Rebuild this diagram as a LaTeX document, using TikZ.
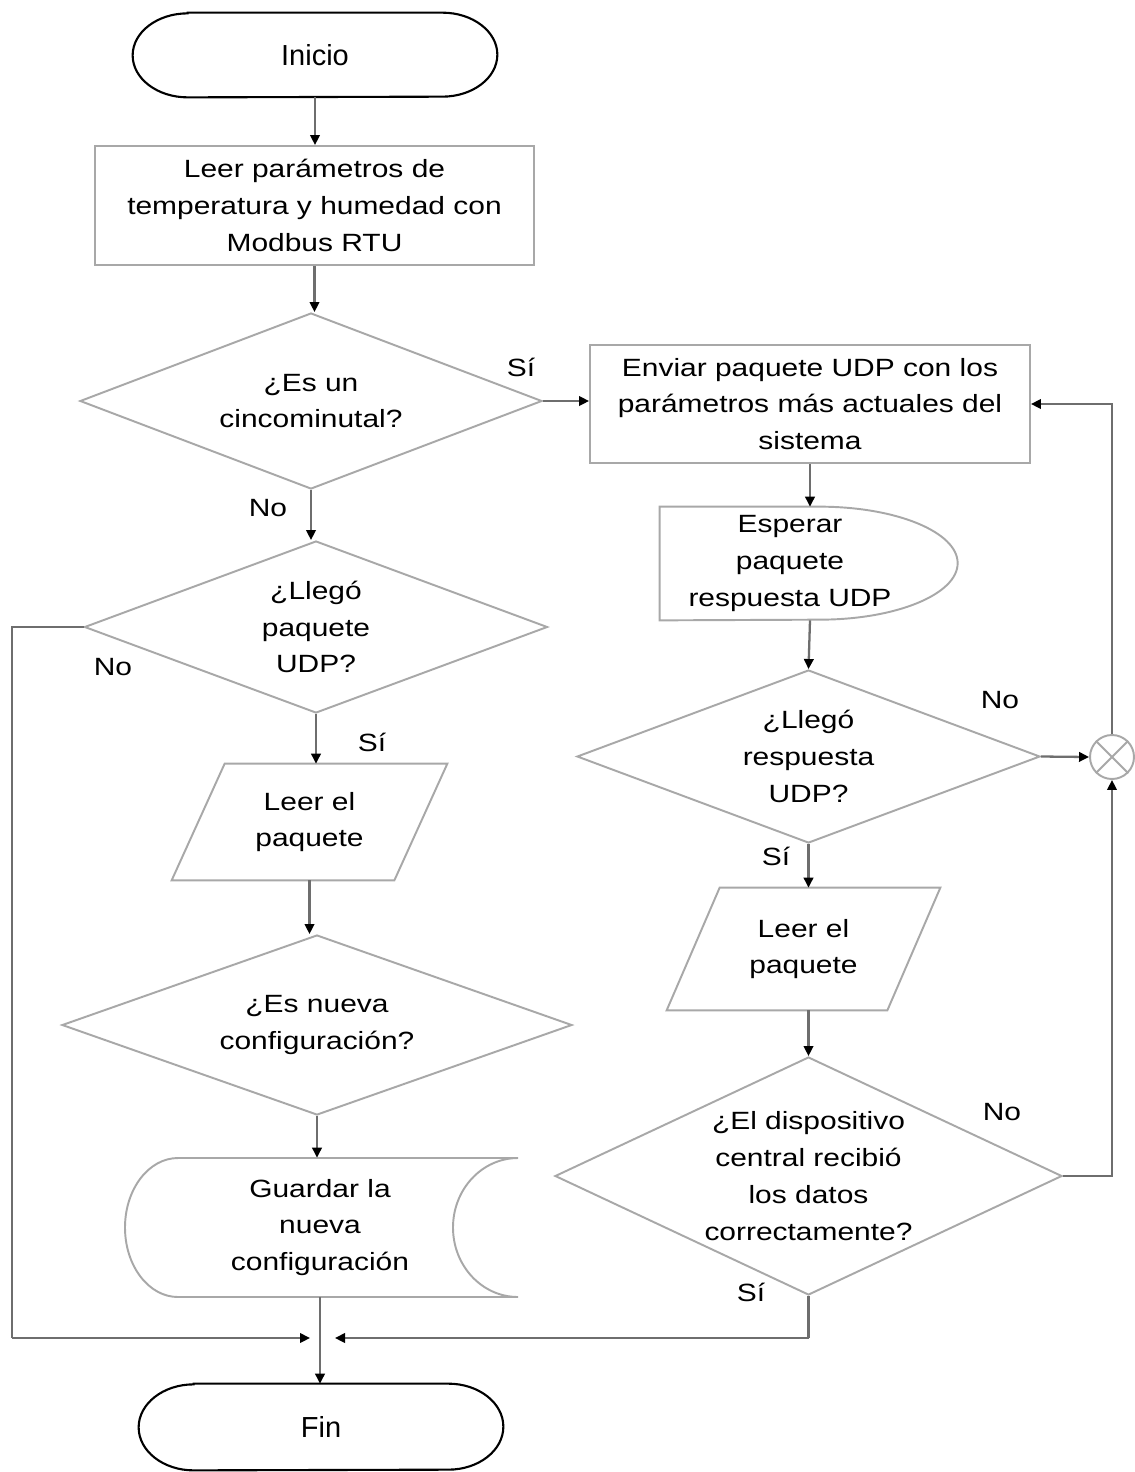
\documentclass[tikz,border=0pt]{standalone}
\usepackage{fontspec}
\setmainfont{Liberation Sans}[FakeStretch=1.2]
\newfontfamily\termfont{Liberation Sans}
\usetikzlibrary{arrows.meta,calc,shapes.geometric}
\definecolor{outlinegray}{HTML}{A8A8A8}
\definecolor{wiregray}{HTML}{6E6E6E}
% one drawing unit is one pixel of the layout grid
\newcommand\pxl[1]{#1*0.02cm}
\begin{document}
\begin{tikzpicture}[x=0.02cm,y=0.02cm,
  every node/.style={font=\fontsize{14.2pt}{21pt}\selectfont, align=center, inner sep=0pt},
  outline/.style={draw=outlinegray, line width=1.1pt},
  terminal/.style={draw=black, line width=1.2pt},
  wire/.style={draw=wiregray, line width=1.3pt},
  flow/.style={wire, -{Triangle[length=0.2cm,width=0.19cm,color=black]}},
  process/.style={rectangle, outline},
  decision/.style={diamond, outline},
  termtext/.style={font=\termfont\fontsize{16.5pt}{20pt}\selectfont}
]
\fill[white] (0,0) rectangle (1135,-1472);
\useasboundingbox (0,0) rectangle (1135,-1472);

% ---------- left column ----------
\node[termtext, minimum width=\pxl{364}, minimum height=\pxl{84}] (ini) at (315,-55) {Inicio};
\draw[terminal] ($(ini.north west)+(55,0)$) -- ($(ini.north east)+(-55,0)$)
  arc[start angle=90,end angle=-90,x radius=\pxl{55},y radius=\pxl{42}]
  -- ($(ini.south west)+(55,0)$)
  arc[start angle=270,end angle=90,x radius=\pxl{55},y radius=\pxl{42}] -- cycle;

\node[process, minimum width=\pxl{439}, minimum height=\pxl{119}] (read) at (314.5,-205.5)
  {Leer parámetros de\\temperatura y humedad con\\Modbus RTU};

\node[decision, aspect=2.63, minimum width=\pxl{462}, minimum height=\pxl{176}] (d1) at (311,-401)
  {¿Es un\\cincominutal?};

\node[decision, aspect=2.69, minimum width=\pxl{463}, minimum height=\pxl{172}] (d2) at (316,-627)
  {¿Llegó\\paquete\\UDP?};

\node[minimum width=\pxl{275}, minimum height=\pxl{116}] (p1) at (309.5,-822) {Leer el\\paquete};
\draw[outline] ($(p1.north west)+(53,0)$) -- (p1.north east) -- ($(p1.south east)+(-53,0)$)
  -- (p1.south west) -- cycle;

\node[decision, aspect=2.83, minimum width=\pxl{510}, minimum height=\pxl{180}] (d3) at (317,-1025)
  {¿Es nueva\\configuración?};

\node[minimum width=\pxl{393}, minimum height=\pxl{139}] (save) at (320,-1227.5)
  {Guardar la\\nueva\\configuración};
\draw[outline] (178,-1158) -- (518,-1158)
  arc[start angle=90,end angle=270,x radius=\pxl{65},y radius=\pxl{69.5}]
  -- (178,-1297)
  arc[start angle=270,end angle=90,x radius=\pxl{53},y radius=\pxl{69.5}] -- cycle;

\node[termtext, minimum width=\pxl{364}, minimum height=\pxl{86}] (fin) at (321,-1427) {Fin};
\draw[terminal] ($(fin.north west)+(55,0)$) -- ($(fin.north east)+(-55,0)$)
  arc[start angle=90,end angle=-90,x radius=\pxl{55},y radius=\pxl{43}]
  -- ($(fin.south west)+(55,0)$)
  arc[start angle=270,end angle=90,x radius=\pxl{55},y radius=\pxl{43}] -- cycle;

% ---------- right column ----------
\node[process, minimum width=\pxl{440}, minimum height=\pxl{118}] (send) at (810,-404)
  {Enviar paquete UDP con los\\parámetros más actuales del\\sistema};

\node[minimum width=\pxl{260}, minimum height=\pxl{113}] (wait) at (790,-563.5)
  {Esperar\\paquete\\respuesta UDP};
\draw[outline] (wait.north west) -- ++(160,0)
  arc[start angle=90,end angle=-90,x radius=\pxl{138},y radius=\pxl{56.5}]
  -- (wait.south west) -- cycle;

\node[decision, aspect=2.68, minimum width=\pxl{463}, minimum height=\pxl{173}] (d4) at (808.5,-756.5)
  {¿Llegó\\respuesta\\UDP?};

\node[circle, outline, minimum size=\pxl{44}] (sum) at (1112,-757) {};
\draw[outline] (sum.north west) -- (sum.south east) (sum.north east) -- (sum.south west);

\node[minimum width=\pxl{273}, minimum height=\pxl{122}] (p2) at (803.5,-949) {Leer el\\paquete};
\draw[outline] ($(p2.north west)+(53,0)$) -- (p2.north east) -- ($(p2.south east)+(-53,0)$)
  -- (p2.south west) -- cycle;

\node[decision, aspect=2.13, minimum width=\pxl{507}, minimum height=\pxl{238}] (d5) at (808.5,-1176)
  {¿El dispositivo\\central recibió\\los datos\\correctamente?};

% ---------- branch labels ----------
\node (siA) at (521,-367) {Sí};
\node (noA) at (268,-508) {No};
\node (noB) at (113,-667) {No};
\node (siB) at (372,-742) {Sí};
\node (noC) at (1000,-700) {No};
\node (siC) at (776,-856) {Sí};
\node (noD) at (1002,-1112) {No};
\node (siD) at (751,-1292) {Sí};

% ---------- junction points ----------
\coordinate (leftrail) at (12,-1000);
\coordinate (mergeL) at (310,-1338);
\coordinate (mergeR) at (335,-1338);
\coordinate (rightdrop) at (808.5,-1338);

% ---------- connectors ----------
\draw[flow] (ini.south) -- (ini.south |- read.north);
\draw[flow] (read.south) -- (read.south |- d1.north);
\draw[flow] (d1.east) -- (d1.east -| send.west);
\draw[flow] (d1.south) -- (d1.south |- d2.north);
\draw[wire] (d2.west) -- (d2.west -| leftrail) -- (leftrail |- mergeL);
\draw[flow] (leftrail |- mergeL) -- (mergeL);
\draw[flow] (d2.south) -- (d2.south |- p1.north);
\draw[flow] (p1.south) -- (p1.south |- d3.north);
\draw[flow] (d3.south) -- (d3.south |- save.north);
\draw[flow] (save.south) -- (save.south |- fin.north);

\draw[flow] (send.south) -- (send.south |- wait.north);
\draw[flow] (send.south |- wait.south) -- (d4.north);
\draw[flow] (d4.east) -- (sum.west);
\draw[flow] (sum.north) |- (send.east);
\draw[flow] (d4.south) -- (d4.south |- p2.north);
\draw[flow] (p2.south -| d5.north) -- (d5.north);
\draw[flow] (d5.east) -| (sum.south);
\draw[wire] (d5.south) -- (rightdrop);
\draw[flow] (rightdrop) -- (mergeR);
\end{tikzpicture}
\end{document}
